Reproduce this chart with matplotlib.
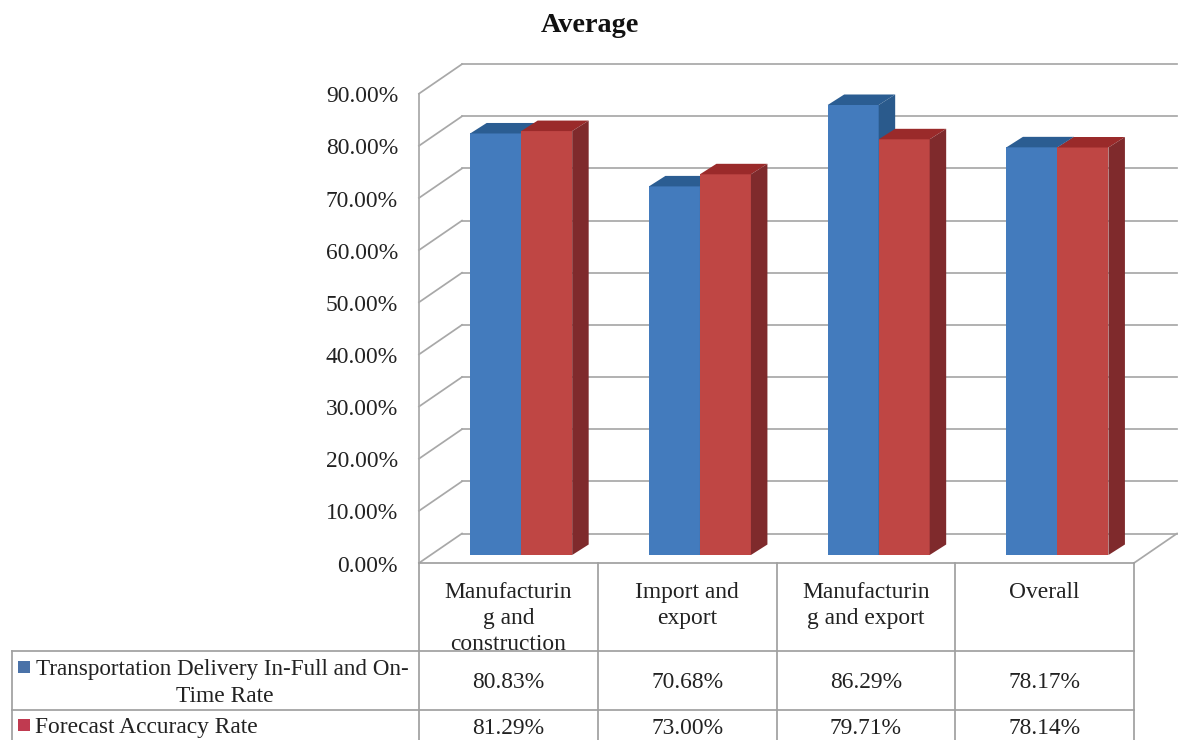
import matplotlib
matplotlib.use('Agg')
import matplotlib.pyplot as plt
from matplotlib.patches import Polygon

plt.rcParams['font.family'] = ['Liberation Serif', 'DejaVu Serif']

categories = ['Manufacturin\ng and\nconstruction', 'Import and\nexport', 'Manufacturin\ng and export', 'Overall']
delivery_rate = [80.83, 70.68, 86.29, 78.17]
forecast_rate = [81.29, 73.00, 79.71, 78.14]
y_ticks = [0, 10, 20, 30, 40, 50, 60, 70, 80, 90]
series_names = ['Transportation Delivery In-Full and On-\nTime Rate', 'Forecast Accuracy Rate']

W, H = 1178, 740
px_x = 178.75   # pixels per category
px_y = 5.215    # pixels per percent
left, base = 419, 563
fs = 16.9
ink = '#222222'

fig = plt.figure(figsize=(W / 100, H / 100), dpi=100)

# chart axes fills the figure, x in categories, y in percent
ax = fig.add_axes([0, 0, 1, 1])
ax.set_xlim(-left / px_x, (W - left) / px_x)
ax.set_ylim(-(H - base) / px_y, base / px_y)
ax.axis('off')

# overlay in pixels for the table under the chart
tb = fig.add_axes([0, 0, 1, 1])
tb.set_xlim(0, W)
tb.set_ylim(H, 0)
tb.axis('off')
tb.patch.set_alpha(0)

grid = '#a8a8a8'
lw = 1.25
depth_x = 43 / px_x
depth_y = 29.5 / px_y
n = len(categories)

# back wall and side wall gridlines
for t in y_ticks:
    if t > 0:
        ax.plot([depth_x, n + depth_x], [t + depth_y, t + depth_y], color=grid, lw=lw, zorder=1)
    ax.plot([0, depth_x], [t, t + depth_y], color=grid, lw=lw, zorder=1)
    ax.text(-0.117, t - 0.6, f'{t:.2f}%', ha='right', va='center', fontsize=fs, color=ink)
ax.plot([0, 0], [0, 90], color=grid, lw=lw, zorder=1)
ax.plot([depth_x, n + depth_x], [depth_y, depth_y], color=grid, lw=lw, zorder=1)
ax.plot([n, n + depth_x], [0, depth_y], color=grid, lw=lw, zorder=1)

# bars sit a little behind the front edge of the floor
bar_w = 51 / px_x
bar_dx = 16.5 / px_x
bar_dy = 10.5 / px_y
floor_dx = 12.8 / px_x
floor_dy = 8 / px_y


def bar_3d(x0, value, front, top, side, z):
    bottom = floor_dy
    ax.bar(x0, value, bar_w, bottom=bottom, align='edge', color=front, zorder=z)
    y1 = bottom + value
    ax.add_patch(Polygon([(x0, y1), (x0 + bar_w, y1), (x0 + bar_w + bar_dx, y1 + bar_dy), (x0 + bar_dx, y1 + bar_dy)],
                         closed=True, facecolor=top, edgecolor='none', zorder=z))
    ax.add_patch(Polygon([(x0 + bar_w, bottom), (x0 + bar_w + bar_dx, bottom + bar_dy),
                          (x0 + bar_w + bar_dx, y1 + bar_dy), (x0 + bar_w, y1)],
                         closed=True, facecolor=side, edgecolor='none', zorder=z))


for i in range(n):
    centre = i + 0.5 + floor_dx
    bar_3d(centre - bar_w, delivery_rate[i], '#437bbd', '#2b5d92', '#2a5a8c', 3)
    bar_3d(centre, forecast_rate[i], '#bf4644', '#9a2a2a', '#7f2a2c', 4)

# table
line = '#a0a0a0'
cols = [left + px_x * i for i in range(n + 1)]
for x in cols:
    tb.plot([x, x], [base, H], color=line, lw=lw)
tb.plot([left, cols[-1]], [base, base], color=line, lw=lw)
tb.plot([12, 12], [651, H], color=line, lw=lw)
tb.plot([12, cols[-1]], [651, 651], color=line, lw=lw)
tb.plot([12, cols[-1]], [710, 710], color=line, lw=lw)

for i in range(n):
    xc = (cols[i] + cols[i + 1]) / 2
    tb.text(xc, 582, categories[i], ha='center', va='top', fontsize=fs, color=ink, linespacing=1.3)
    tb.text(xc, 683, f'{delivery_rate[i]:.2f}%', ha='center', va='center', fontsize=fs, color=ink)
    tb.text(xc, 728, f'{forecast_rate[i]:.2f}%', ha='center', va='center', fontsize=fs, color=ink)

first, second = series_names[0].split('\n')
tb.text(36, 670, first, ha='left', va='center', fontsize=16.7, color=ink)
tb.text(225, 696, second, ha='center', va='center', fontsize=fs, color=ink)
tb.text(35, 728, series_names[1], ha='left', va='center', fontsize=fs, color=ink)
tb.add_patch(Polygon([(18, 661), (30, 661), (30, 673), (18, 673)], closed=True, facecolor='#4a72a8', edgecolor='none'))
tb.add_patch(Polygon([(18, 719), (30, 719), (30, 731), (18, 731)], closed=True, facecolor='#c03a50', edgecolor='none'))

tb.text(590, 25, 'Average', ha='center', va='center', fontsize=20.3, fontweight='bold', color='#111111')

fig.savefig('out.png', dpi=100)
